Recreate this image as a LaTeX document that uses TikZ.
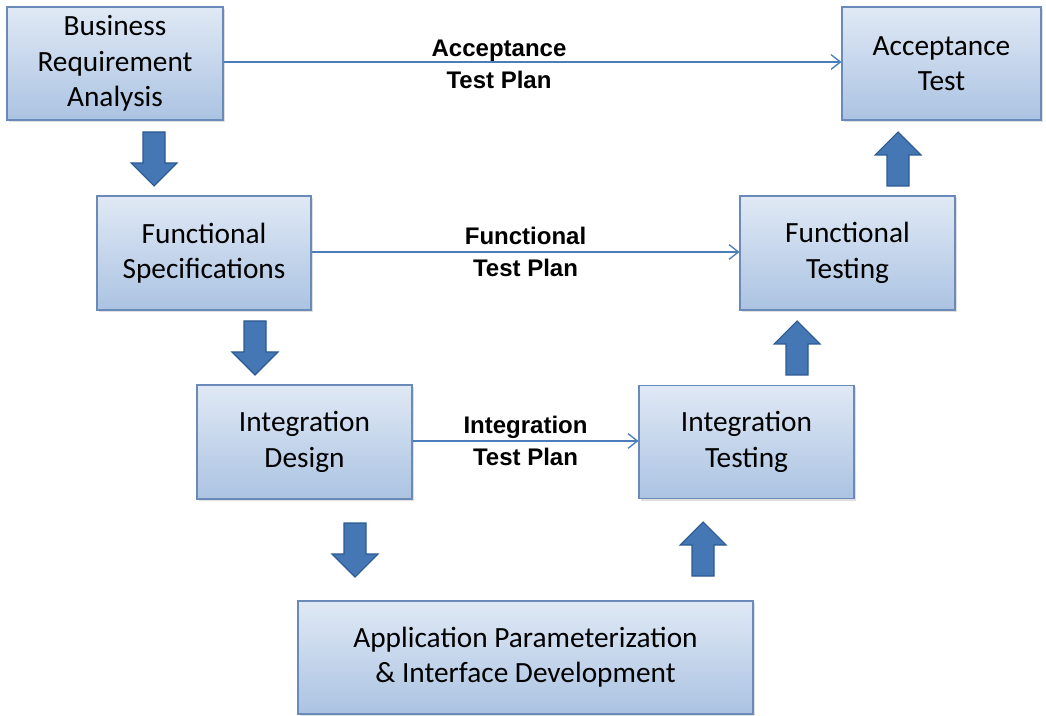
\documentclass[tikz,border=0pt]{standalone}
\usepackage{fontspec}
\setmainfont{Carlito}
\newfontfamily\lblfont{Liberation Sans}
\usetikzlibrary{arrows.meta,shadows}
\definecolor{boxtop}{HTML}{E0E9F5}
\definecolor{boxbot}{HTML}{ABC3E2}
\definecolor{boxedge}{HTML}{6A8BBA}
\definecolor{linecol}{HTML}{4A7EBB}
\definecolor{arrfill}{HTML}{4577B5}
\definecolor{arredge}{HTML}{2C5A93}
\tikzset{
  stage/.style={draw=boxedge, line width=0.8pt, top color=boxtop, bottom color=boxbot,
    align=center, inner sep=0pt, font=\fontsize{22}{26.5}\selectfont,
    drop shadow={shadow xshift=1.5pt, shadow yshift=-1.5pt, opacity=0.25}},
  plan/.style={align=center, font=\lblfont\bfseries\fontsize{18}{24}\selectfont, inner sep=1pt},
  conn/.style={draw=linecol, line width=1pt, -{Straight Barb[length=7pt,width=11pt]}},
  blockarrow/.style={fill=arrfill, draw=arredge, line width=0.8pt, line join=miter},
  blockdown/.pic={\path[blockarrow] (-11,0) -- (11,0) -- (11,31) -- (23,31) -- (0,54) -- (-23,31) -- (-11,31) -- cycle;},
  blockup/.pic={\path[blockarrow] (-11,0) -- (11,0) -- (11,-31) -- (23,-31) -- (0,-54) -- (-23,-31) -- (-11,-31) -- cycle;}
}
\begin{document}
\begin{tikzpicture}[x=0.75pt,y=-0.75pt]
\useasboundingbox (0,0) rectangle (1046,716);
% stages
\node[stage, minimum width=216*0.75pt, minimum height=113*0.75pt] (bra) at (115,63.5) {Business\\Requirement\\Analysis};
\node[stage, minimum width=199*0.75pt, minimum height=113*0.75pt] (at) at (941.5,63.5) {Acceptance\\Test};
\node[stage, minimum width=214*0.75pt, minimum height=114*0.75pt] (fs) at (204,253) {Functional\\Specifications};
\node[stage, minimum width=215*0.75pt, minimum height=114*0.75pt] (ft) at (847.5,253) {Functional\\Testing};
\node[stage, minimum width=215*0.75pt, minimum height=114*0.75pt] (id) at (304.5,442) {Integration\\Design};
\node[stage, minimum width=215*0.75pt, minimum height=113*0.75pt] (it) at (746.5,442) {Integration\\Testing};
\node[stage, minimum width=455*0.75pt, minimum height=113*0.75pt] (ap) at (525.5,657.5) {Application Parameterization\\\& Interface Development};
% test plan connectors
\draw[conn] (bra.east |- 0,62) -- (at.west |- 0,62);
\node[plan] (atp) at (499,64) {Acceptance\\Test Plan};
\draw[conn] (fs.east |- 0,252) -- node[plan] (ftp) {Functional\\Test Plan} (ft.west |- 0,252);
\draw[conn] (id.east |- 0,441) -- node[plan] (itp) {Integration\\Test Plan} (it.west |- 0,441);
% block arrows down
\pic at (154,132) {blockdown};
\pic at (255,321) {blockdown};
\pic at (355,523) {blockdown};
% block arrows up
\pic at (898,186) {blockup};
\pic at (797,375) {blockup};
\pic at (703,576) {blockup};
\end{tikzpicture}
\end{document}
